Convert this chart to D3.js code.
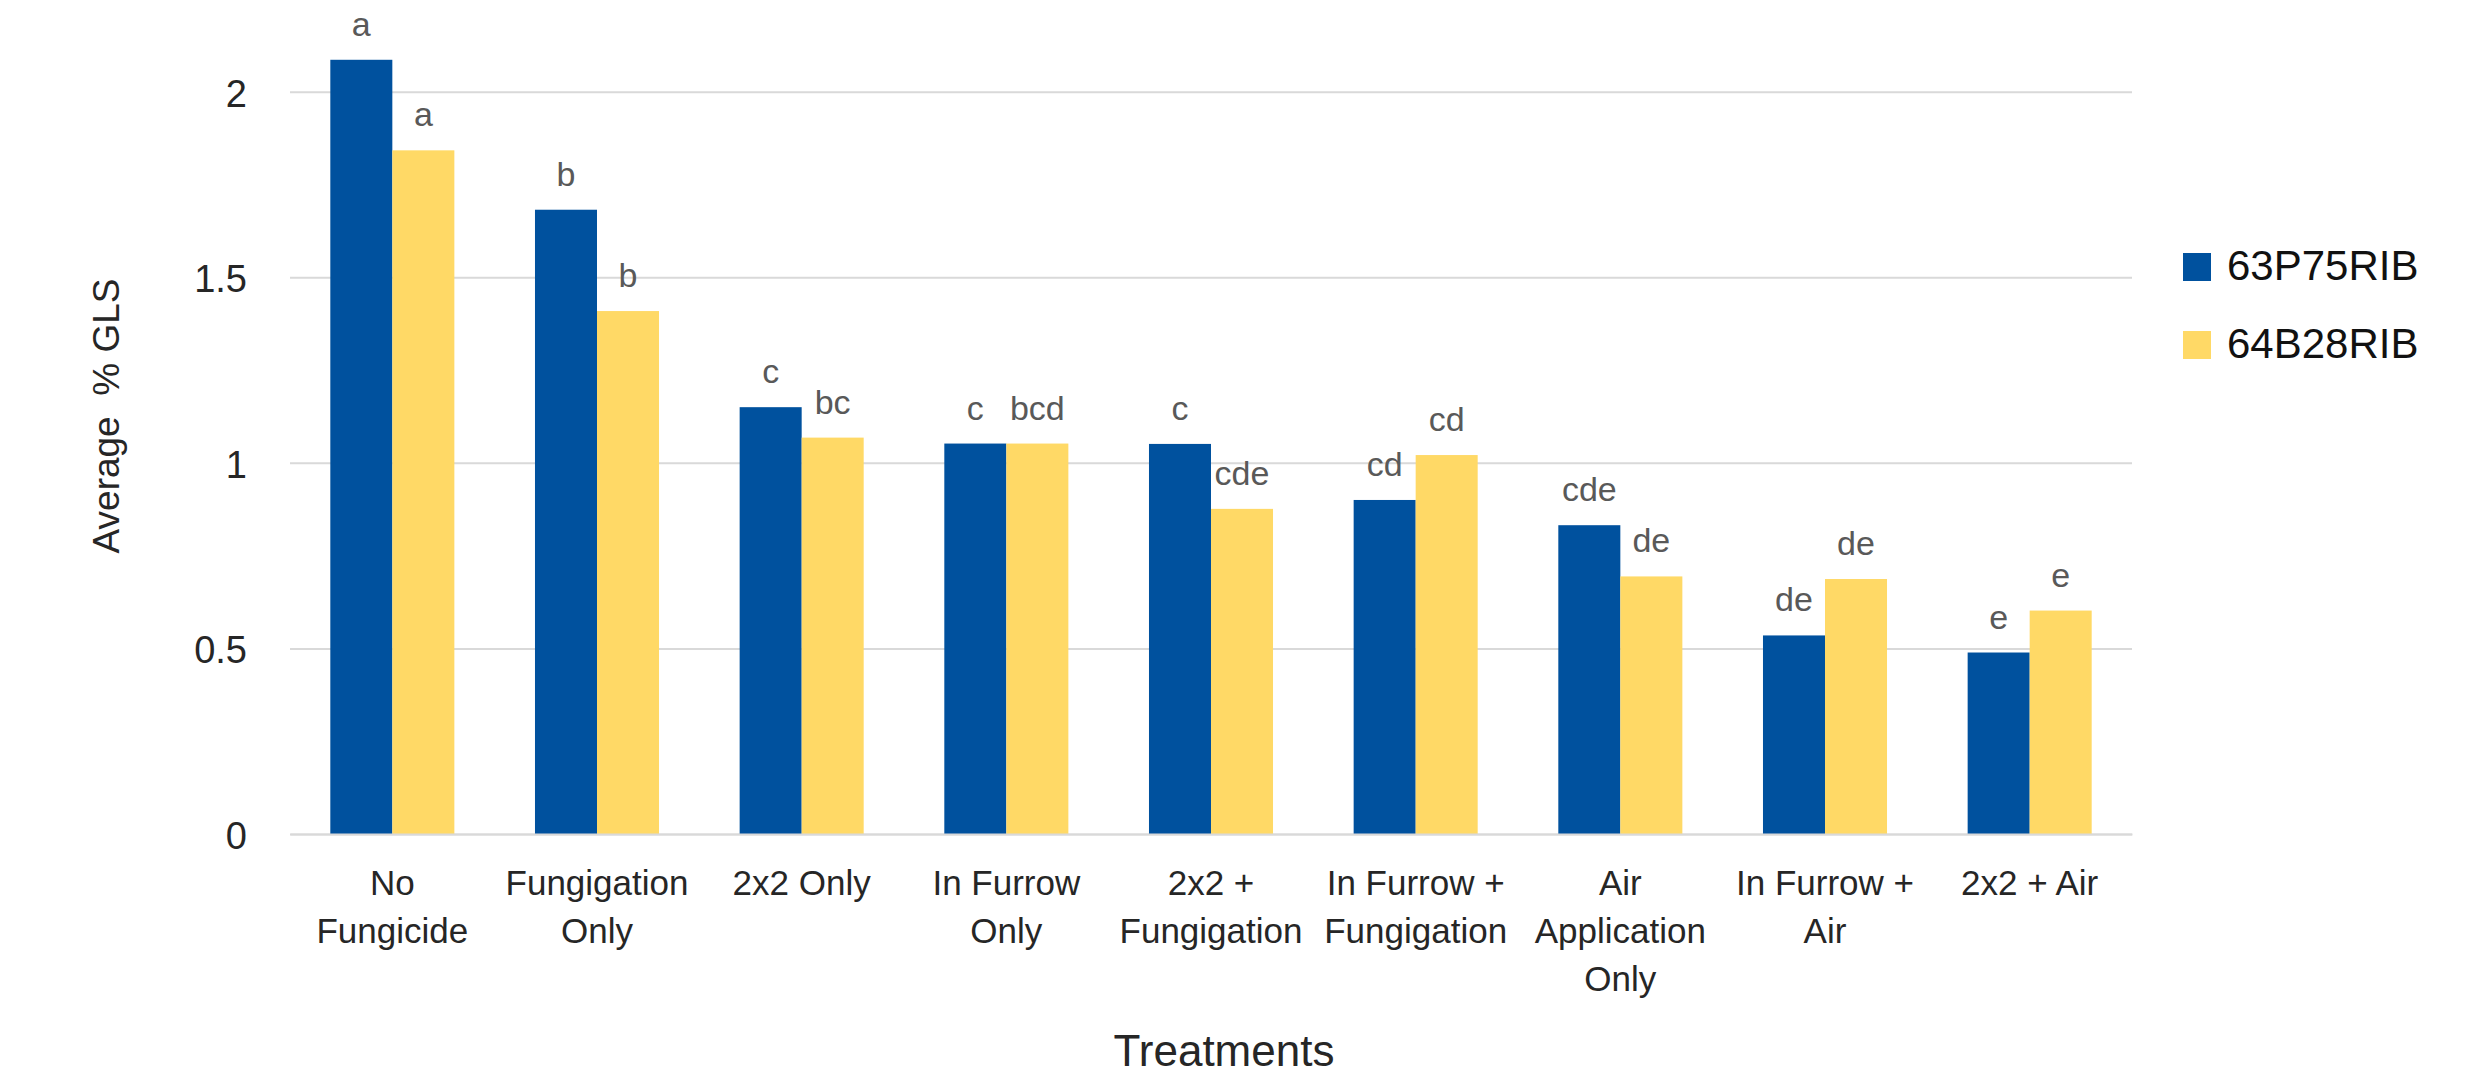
<!DOCTYPE html>
<html>
<head>
<meta charset="utf-8">
<script src="https://cdn.jsdelivr.net/npm/d3@7"></script>
<style>
  html, body { margin: 0; padding: 0; background: #fff; }
  svg { display: block; font-family: "Liberation Sans", Arial, sans-serif; }
</style>
</head>
<body>
<svg id="chart" width="2465" height="1083"></svg>
<script>
// Treatments on the x axis ("\n" marks where a label wraps)
const categories = [
  "No\nFungicide",
  "Fungigation\nOnly",
  "2x2 Only",
  "In Furrow\nOnly",
  "2x2 +\nFungigation",
  "In Furrow +\nFungigation",
  "Air\nApplication\nOnly",
  "In Furrow +\nAir",
  "2x2 + Air"
];

const seriesNames = ["63P75RIB", "64B28RIB"];

// Average % GLS per treatment
const values63P75RIB = [2.086, 1.682, 1.150, 1.052, 1.051, 0.900, 0.832, 0.535, 0.489];
const values64B28RIB = [1.842, 1.409, 1.068, 1.052, 0.876, 1.021, 0.694, 0.687, 0.602];

// Mean separation letters
const letters63P75RIB = ["a", "b", "c", "c", "c", "cd", "cde", "de", "e"];
const letters64B28RIB = ["a", "b", "bc", "bcd", "cde", "cd", "de", "de", "e"];

const yTicks = [0, 0.5, 1, 1.5, 2];

const colors = { "63P75RIB": "#00519E", "64B28RIB": "#FFD966" };

const svg = d3.select("#chart");

const plot = { left: 290, right: 2132, top: 91.7, bottom: 834 };

const x0 = d3.scaleBand()
  .domain(categories)
  .range([plot.left, plot.right])
  .padding(0);

const x1 = d3.scaleBand()
  .domain(seriesNames)
  .range([0, x0.bandwidth()])
  .paddingInner(0)
  .paddingOuter(0.65);

const y = d3.scaleLinear()
  .domain([0, 2])
  .range([plot.bottom, plot.top]);

// Horizontal gridlines
const yAxis = d3.axisLeft(y)
  .tickValues(yTicks)
  .tickSize(-(plot.right - plot.left))
  .tickFormat(d3.format("~g"))
  .tickPadding(43);

const gy = svg.append("g")
  .attr("transform", `translate(${plot.left},0)`)
  .call(yAxis);
gy.select(".domain").remove();
gy.selectAll(".tick line")
  .attr("stroke", "#D9D9D9")
  .attr("stroke-width", 2);
gy.selectAll(".tick text")
  .attr("fill", "#262626")
  .attr("font-size", 38)
  .attr("dy", "0.38em");

// Bars
const rows = categories.map((c, i) => ({
  category: c,
  items: [
    { series: "63P75RIB", value: values63P75RIB[i], letter: letters63P75RIB[i] },
    { series: "64B28RIB", value: values64B28RIB[i], letter: letters64B28RIB[i] }
  ]
}));

const groups = svg.append("g")
  .selectAll("g")
  .data(rows)
  .join("g")
  .attr("transform", d => `translate(${x0(d.category)},0)`);

groups.selectAll("rect")
  .data(d => d.items)
  .join("rect")
  .attr("x", d => x1(d.series))
  .attr("width", x1.bandwidth())
  .attr("y", d => y(d.value))
  .attr("height", d => y(0) - y(d.value))
  .attr("fill", d => colors[d.series]);

// Letter labels above each bar
groups.selectAll("text.lbl")
  .data(d => d.items)
  .join("text")
  .attr("class", "lbl")
  .attr("x", d => x1(d.series) + x1.bandwidth() / 2)
  .attr("y", d => y(d.value) - 24)
  .attr("text-anchor", "middle")
  .attr("font-size", 34)
  .attr("fill", "#595959")
  .text(d => d.letter);

// Category axis labels
const xAxis = d3.axisBottom(x0).tickSize(0).tickFormat("");
const gx = svg.append("g")
  .attr("transform", `translate(0,${plot.bottom})`)
  .call(xAxis);
gx.select(".domain")
  .attr("stroke", "#D9D9D9")
  .attr("stroke-width", 2);

gx.selectAll(".tick").each(function(d) {
  const lines = d.split("\n");
  const t = d3.select(this).append("text")
    .attr("text-anchor", "middle")
    .attr("font-size", 35)
    .attr("fill", "#262626");
  lines.forEach((ln, k) => {
    t.append("tspan")
      .attr("x", 0)
      .attr("y", 61 + k * 48)
      .text(ln);
  });
});

// Axis titles
svg.append("text")
  .attr("transform", "translate(119,416) rotate(-90)")
  .attr("text-anchor", "middle")
  .attr("font-size", 37)
  .attr("fill", "#262626")
  .attr("xml:space", "preserve")
  .text("Average  % GLS");

svg.append("text")
  .attr("x", 1224)
  .attr("y", 1066)
  .attr("text-anchor", "middle")
  .attr("font-size", 44)
  .attr("fill", "#262626")
  .text("Treatments");

// Legend
const legend = svg.append("g")
  .selectAll("g")
  .data(seriesNames)
  .join("g")
  .attr("transform", (d, i) => `translate(2183,${253 + i * 78})`);

legend.append("rect")
  .attr("width", 28)
  .attr("height", 28)
  .attr("fill", d => colors[d]);

legend.append("text")
  .attr("x", 44)
  .attr("y", 27)
  .attr("font-size", 42)
  .attr("fill", "#111")
  .text(d => d);
</script>
</body>
</html>
